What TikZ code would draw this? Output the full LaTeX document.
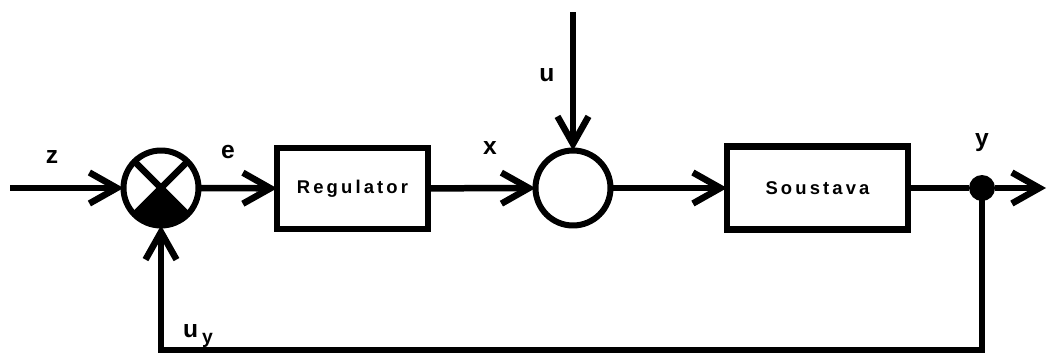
\documentclass[tikz,border=0pt]{standalone}
\usepackage{fontspec}
\setmainfont{Liberation Sans}
\newfontfamily\spaced[LetterSpace=17]{Liberation Sans}
\usetikzlibrary{arrows.meta,positioning}

\tikzset{
	sig/.style = {line width=0.13cm, -{Straight Barb[length=0.55cm,width=0.62cm]}},
	wire/.style = {line width=0.13cm},
	blok/.style = {draw, rectangle, line width=0.13cm, outer sep=0, font=\fontsize{10.5}{12}\bfseries\spaced},
	uzel/.style = {draw, circle, line width=0.12cm, outer sep=0, minimum size=1.5cm, inner sep=0},
	lbl/.style = {font=\fontsize{14}{16}\bfseries}
}

\begin{document}
\begin{tikzpicture}[x=0.02cm, y=-0.02cm]
			\useasboundingbox (0,0) rectangle (1051,355);
			% bloky
			\node (sum) at (161,188) [uzel] {};
			\node (regulator) at (352.5,188.5) [blok, minimum width=3.02cm, minimum height=1.62cm] {Regulator};
			\node (mix) at (573,188) [uzel] {};
			\node (soustava) at (817.5,188) [blok, minimum width=3.62cm, minimum height=1.66cm] {Soustava};
			\node (branch) at (982,188) [circle, fill, minimum size=0.52cm, inner sep=0] {};
			
			% sumator
			\fill (sum.center) -- (sum.-45) arc[start angle=-45, end angle=-135, radius=0.75cm] -- cycle;
			\draw [wire] (sum.45) -- (sum.-135);
			\draw [wire] (sum.135) -- (sum.-45);
			
			\coordinate (in) at (10,188);
			\coordinate (out) at (1046,188);
			\coordinate (top) at (573,12);
			\coordinate (br) at (982,350);
			\coordinate (bl) at (161,350);
			
			\draw [sig] (in) -- (sum);
			\draw [sig] (sum) -- (regulator);
			\draw [sig] (regulator) -- (mix);
			\draw [sig] (top) -- (mix);
			\draw [sig] (mix) -- (soustava);
			\draw [wire] (soustava) -- (branch);
			\draw [sig] (branch) -- (out);
			\draw [sig] (branch.center) -- (br) -- (bl) -- (sum);
			
			% popisky
			\node (z) at (52,157) [lbl] {z};
			\node (e) at (228,152) [lbl] {e};
			\node (x) at (490,148) [lbl] {x};
			\node (u) at (547,75) [lbl] {u};
			\node (y) at (982,143) [lbl] {y};
			\node (uy) at (198,336) [lbl] {u\,\raisebox{-0.4ex}{\fontsize{11}{12}\bfseries y}};
		\end{tikzpicture}
\end{document}
